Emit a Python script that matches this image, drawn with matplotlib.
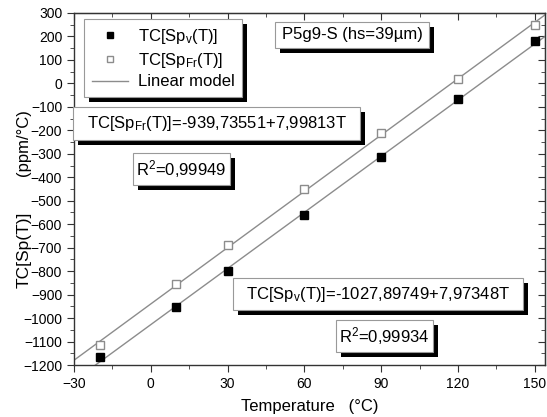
import matplotlib
matplotlib.use("Agg")
import matplotlib.pyplot as plt
from matplotlib.ticker import MultipleLocator
from matplotlib.patches import Rectangle
from matplotlib.transforms import IdentityTransform
from matplotlib.lines import Line2D
import numpy as np

plt.rcParams['font.family'] = ['Liberation Sans', 'DejaVu Sans']
plt.rcParams['mathtext.default'] = 'regular'

temps = [-20, 10, 30, 60, 90, 120, 150]
tc_v = [-1164, -951, -799, -561, -312, -65, 182]
tc_fr = [-1115, -855, -690, -448, -210, 20, 249]
fit_v = (-1027.89749, 7.97348)
fit_fr = (-939.73551, 7.99813)
xticks = [-30, 0, 30, 60, 90, 120, 150]
yticks = list(range(-1200, 301, 100))

W, H = 547, 417
fig = plt.figure(figsize=(W/100, H/100), dpi=100)
ax = fig.add_axes([74/W, 1-365/H, 471/W, 352/H])

GRAY = '#8c8c8c'
tline = np.array([-30, 154])
ax.plot(tline, fit_v[0] + fit_v[1]*tline, color=GRAY, lw=1.0, zorder=1)
ax.plot(tline, fit_fr[0] + fit_fr[1]*tline, color=GRAY, lw=1.0, zorder=1)
ax.plot(temps, tc_v, 's', color='black', ms=6, zorder=3)
ax.plot(temps, tc_fr, 's', mfc='white', mec=GRAY, mew=1.0, ms=6, zorder=3)

ax.set_xlim(-30, 154)
ax.set_ylim(-1200, 300)
ax.set_xticks(xticks)
ax.set_yticks(yticks)
ax.xaxis.set_minor_locator(MultipleLocator(15))
ax.yaxis.set_minor_locator(MultipleLocator(50))
ax.tick_params(which='both', direction='out', labelsize=10, color='#333333')
ax.tick_params(which='major', length=5)
ax.tick_params(which='minor', length=3)
for s in ax.spines.values():
    s.set_color('#333333')
    s.set_linewidth(1.0)

sx = ax.secondary_xaxis('top')
sx.set_xticks(xticks)
sx.xaxis.set_minor_locator(MultipleLocator(15))
sx.tick_params(which='both', direction='in', labeltop=False, color='#333333')
sx.tick_params(which='major', length=5)
sx.tick_params(which='minor', length=3)
sy = ax.secondary_yaxis('right')
sy.set_yticks(yticks)
sy.yaxis.set_minor_locator(MultipleLocator(50))
sy.tick_params(which='both', direction='in', labelright=False, color='#333333')
sy.tick_params(which='major', length=5)
sy.tick_params(which='minor', length=3)

ax.set_xlabel('Temperature   (°C)', fontsize=12, labelpad=6)
fig.text(24/W, 1-143/H, '(ppm/°C)', fontsize=12, rotation=90, ha='center', va='center')
fig.text(24/W, 1-250/H, 'TC[Sp(T)]', fontsize=12.5, rotation=90, ha='center', va='center')

handles = [
    Line2D([], [], marker='s', ls='none', color='black', ms=5),
    Line2D([], [], marker='s', ls='none', mfc='white', mec=GRAY, ms=5),
    Line2D([], [], color=GRAY, lw=1.0),
]
labels = ['TC[Sp$_{v}$(T)]', 'TC[Sp$_{Fr}$(T)]', 'Linear model']
leg = ax.legend(handles, labels, loc='upper left', bbox_to_anchor=(84/W, 1-19/H),
                bbox_transform=fig.transFigure, fontsize=12, fancybox=False,
                edgecolor='#999999', framealpha=1, handlelength=2.2,
                handletextpad=0.6, borderpad=0.45, labelspacing=0.3,
                borderaxespad=0)
leg.get_frame().set_linewidth(0.8)

boxes = []
def box(x0, y0, x1, y1, s, fs=12):
    t = fig.text((x0+x1)/2/W, 1-(y0+y1)/2/H, s, fontsize=fs, ha='center', va='center', zorder=6)
    r = Rectangle((x0/W, 1-y1/H), (x1-x0)/W, (y1-y0)/H, transform=fig.transFigure,
                  fc='white', ec='#999999', lw=0.8, zorder=5)
    fig.add_artist(r)
    boxes.append((x0, y0, x1, y1))
    return t

box(275, 22, 429, 48, 'P5g9-S (hs=39µm)')
box(73, 107, 360, 140, 'TC[Sp$_{Fr}$(T)]=-939,73551+7,99813T')
box(133, 153, 230, 185, 'R$^{2}$=0,99949')
box(233, 278, 523, 310, 'TC[Sp$_{v}$(T)]=-1027,89749+7,97348T')
box(336, 320, 433, 352, 'R$^{2}$=0,99934')

OFF = 5
for (x0, y0, x1, y1) in boxes:
    fig.add_artist(Rectangle(((x0+OFF)/W, 1-(y1+OFF)/H), (x1-x0)/W, (y1-y0)/H,
                             transform=fig.transFigure, fc='black', ec='none', zorder=4))

fig.canvas.draw()
bb = leg.get_frame().get_window_extent(fig.canvas.get_renderer())
ax.add_patch(Rectangle((bb.x0+OFF, bb.y0-OFF), bb.width, bb.height, transform=IdentityTransform(),
                       fc='black', ec='none', zorder=4.9, clip_on=False))

fig.savefig('out.png', dpi=100)
